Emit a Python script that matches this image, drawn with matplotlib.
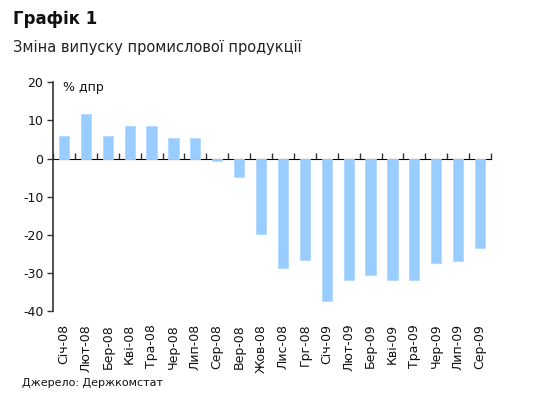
import numpy as np
import matplotlib
matplotlib.use('Agg')
import matplotlib.pyplot as plt

# Data (% y/y)
months = ['Січ-08', 'Лют-08', 'Бер-08', 'Кві-08', 'Тра-08', 'Чер-08', 'Лип-08',
          'Сер-08', 'Вер-08', 'Жов-08', 'Лис-08', 'Грг-08', 'Січ-09', 'Лют-09',
          'Бер-09', 'Кві-09', 'Тра-09', 'Чер-09', 'Лип-09', 'Сер-09']
values = [5.9, 11.7, 5.9, 8.6, 8.6, 5.3, 5.3, -0.6, -4.9, -19.7,
          -28.7, -26.6, -37.3, -31.8, -30.5, -31.8, -31.8, -27.4, -26.9, -23.5]
y_ticks = [20, 10, 0, -10, -20, -30, -40]

plt.rcParams['font.family'] = ['DejaVu Sans']

fig = plt.figure(figsize=(5.43, 3.97), dpi=100)
ax = fig.add_axes([53 / 543, 1 - 311.3 / 397, (491 - 53) / 543, (311.3 - 82.3) / 397])

x = np.arange(len(months))
ax.bar(x, values, width=0.47, color='#99CCFF', edgecolor='#B0D8FF', linewidth=0.6, zorder=2)

ax.set_xlim(-0.5, len(months) - 0.5)
ax.set_ylim(-40, 20)
ax.set_yticks(y_ticks)
ax.set_yticklabels([str(t) for t in y_ticks], fontsize=9, color='#111111')
ax.tick_params(axis='y', direction='out', length=4, width=1, color='#333333', pad=3)

ax.set_xticks(x)
ax.set_xticklabels(months, rotation=90, fontsize=9, color='#111111')
ax.tick_params(axis='x', length=0, pad=9)

for s in ['top', 'right', 'bottom']:
    ax.spines[s].set_visible(False)
ax.spines['left'].set_color('#333333')
ax.spines['left'].set_linewidth(1.2)

# zero line with category boundary ticks
zero_ax = ax.secondary_xaxis(40 / 60)
zero_ax.set_xticks(np.arange(len(months) + 1) - 0.5)
zero_ax.set_xticklabels([])
zero_ax.tick_params(direction='out', length=4, width=1, color='#333333')
zero_ax.spines['bottom'].set_color('#333333')
zero_ax.spines['bottom'].set_linewidth(1.2)

ax.text(0.023, 0.978, '% дпр', transform=ax.transAxes, fontsize=9,
        color='#111111', va='center', ha='left')

fig.text(13 / 543, 1 - 19 / 397, 'Графік 1', fontsize=12, fontweight='bold',
         color='#111111', va='center', ha='left')
fig.text(13 / 543, 1 - 47 / 397, 'Зміна випуску промислової продукції', fontsize=10.5,
         color='#222222', va='center', ha='left')
fig.text(22 / 543, 1 - 383 / 397, 'Джерело: Держкомстат', fontsize=8,
         color='#111111', va='center', ha='left')

fig.savefig('out.png', dpi=100)
